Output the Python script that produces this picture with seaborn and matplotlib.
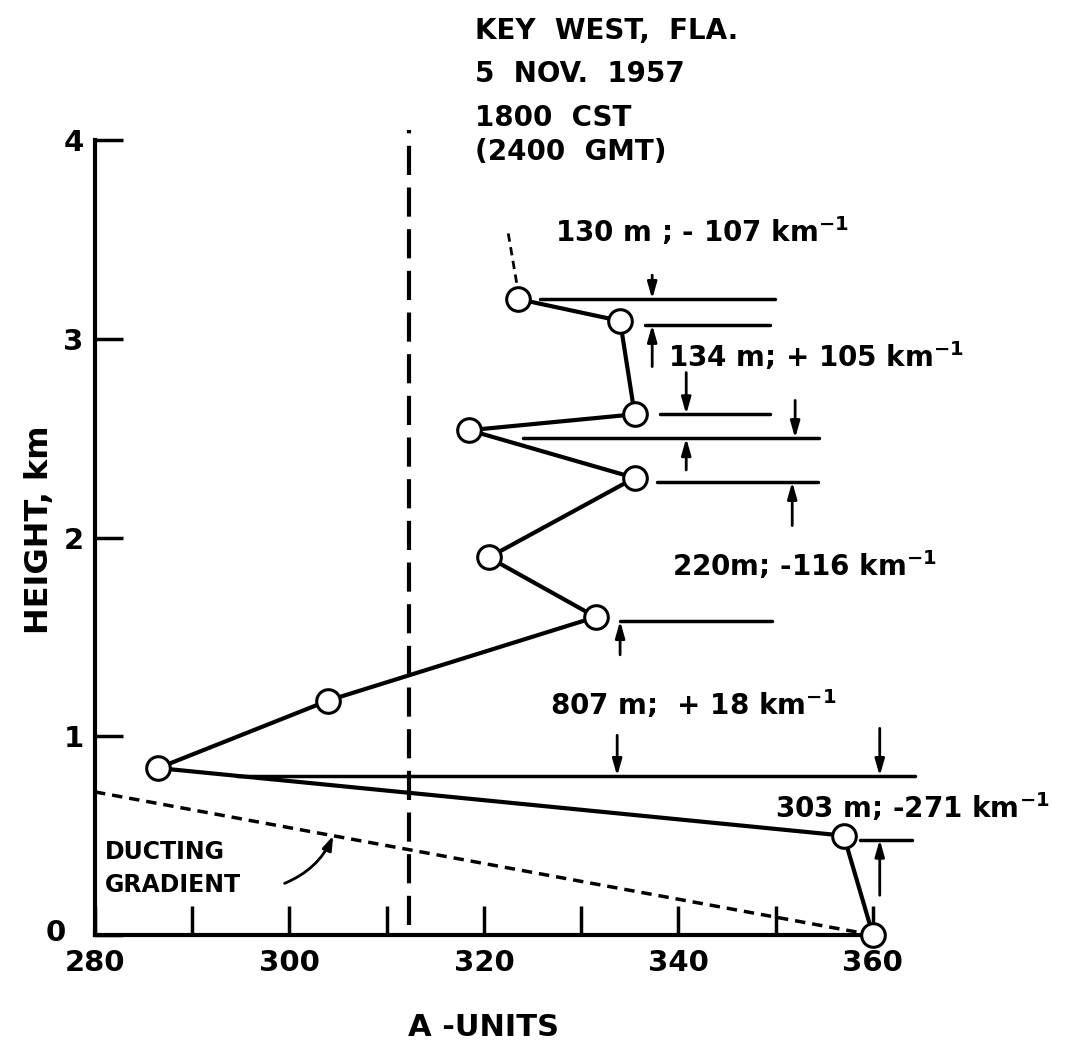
import numpy as np
import pandas as pd
import matplotlib
matplotlib.use('Agg')
import matplotlib.pyplot as plt
import matplotlib.transforms as mtransforms
import seaborn as sns

# refractivity profile (A-units vs height)
a_units = [360, 357, 286.5, 304, 331.5, 320.5, 335.5, 318.5, 335.5, 334, 323.5]
height_km = [0.0, 0.50, 0.84, 1.18, 1.60, 1.90, 2.30, 2.54, 2.62, 3.09, 3.20]

# ducting gradient reference line
duct_a = [280, 360]
duct_h = [0.72, 0.0]

# vertical reference (dashed)
ref_a = 312.3
ref_h = [0.05, 4.05]

# layer boundary lines: height, start, end (A-units)
layer_h = [3.20, 3.07, 2.62, 2.50, 2.28, 1.58, 0.80, 0.48]
layer_x0 = [325.8, 336.6, 338.1, 324.0, 337.8, 334.0, 294.6, 358.7]
layer_x1 = [349.9, 349.4, 349.4, 354.5, 354.3, 349.6, 364.3, 364.0]

# thickness arrows: x, from height, to height
arrow_x = [337.3, 337.3, 340.8, 352.0, 340.8, 351.7, 334.0, 333.7, 360.7, 360.7]
arrow_from = [3.32, 2.86, 2.83, 2.69, 2.34, 2.06, 1.41, 1.005, 1.04, 0.20]
arrow_to = [3.20, 3.07, 2.62, 2.50, 2.50, 2.28, 1.58, 0.80, 0.80, 0.48]

layer_labels = ['130 m ; - 107 km$^{-1}$', '134 m; + 105 km$^{-1}$',
                '220m; -116 km$^{-1}$', '807 m;  + 18 km$^{-1}$',
                '303 m; -271 km$^{-1}$']
label_x = [327.3, 338.9, 339.3, 326.8, 349.9]
label_y = [3.54, 2.91, 1.86, 1.16, 0.64]

title_lines = ['KEY  WEST,  FLA.', '5  NOV.  1957', '1800  CST', '(2400  GMT)']
title_y = [4.55, 4.33, 4.11, 3.94]

sns.set_style('ticks')
plt.rcParams['font.family'] = ['DejaVu Sans']
plt.rcParams['font.weight'] = 'bold'
plt.rcParams['mathtext.default'] = 'regular'
plt.rcParams['text.color'] = 'black'
plt.rcParams['axes.labelcolor'] = 'black'
plt.rcParams['xtick.color'] = 'black'
plt.rcParams['ytick.color'] = 'black'
plt.rcParams['axes.edgecolor'] = 'black'

fig = plt.figure(figsize=(10.72, 10.6), dpi=100)
ax = fig.add_axes([0.0886, 0.1179, 0.7257, 0.7500])

df = pd.DataFrame({'A': a_units, 'H': height_km})
sns.lineplot(data=df, x='A', y='H', sort=False, estimator=None, ax=ax,
             color='black', linewidth=3, marker='o', markersize=17,
             markerfacecolor='white', markeredgecolor='black',
             markeredgewidth=2.2, zorder=5, clip_on=False)

ax.plot(duct_a, duct_h, color='black', linewidth=2.5, linestyle=(0, (3, 2)),
        clip_on=False)
ax.plot([ref_a, ref_a], ref_h, color='black', linewidth=3,
        linestyle=(0, (7, 3)), clip_on=False)

for h, x0, x1 in zip(layer_h, layer_x0, layer_x1):
    ax.plot([x0, x1], [h, h], color='black', linewidth=2.5, clip_on=False)

for x, y0, y1 in zip(arrow_x, arrow_from, arrow_to):
    ax.annotate('', xy=(x, y1), xytext=(x, y0), annotation_clip=False,
                arrowprops=dict(arrowstyle='-|>,head_length=0.7,head_width=0.2',
                                color='black', lw=2, shrinkA=0, shrinkB=0,
                                mutation_scale=14))

for txt, x, y in zip(layer_labels, label_x, label_y):
    ax.text(x, y, txt, fontsize=20, va='center', ha='left', clip_on=False)

for txt, y in zip(title_lines, title_y):
    ax.text(319.1, y, txt, fontsize=20, va='center', ha='left', clip_on=False)

# leader from title to top point
ax.plot([322.5, 323.4], [3.53, 3.27], color='black', linewidth=2,
        linestyle=(0, (3, 2)), clip_on=False)

ax.text(281, 0.42, 'DUCTING', fontsize=17, va='center', ha='left')
ax.text(281, 0.25, 'GRADIENT', fontsize=17, va='center', ha='left')
ax.annotate('', xy=(304.5, 0.50), xytext=(299.5, 0.26),
            arrowprops=dict(arrowstyle='-|>,head_length=0.6,head_width=0.2',
                            color='black', lw=2, shrinkA=0, shrinkB=0,
                            mutation_scale=14,
                            connectionstyle='arc3,rad=0.2'))

ax.set_xlim(280, 360)
ax.set_ylim(0, 4)
ax.set_xticks([280, 300, 320, 340, 360])
ax.set_xticks([290, 310, 330, 350], minor=True)
ax.set_yticks([0, 1, 2, 3, 4])
ax.tick_params(axis='x', which='both', direction='in', length=21, width=2.5,
               labelsize=21, pad=10)
ax.tick_params(axis='y', which='both', direction='in', length=20, width=2.5,
               labelsize=21, pad=8)
for lbl in ax.get_xticklabels() + ax.get_yticklabels():
    lbl.set_fontweight('bold')

# the "0" sits left of the corner, away from "280"
zero_lbl = ax.get_yticklabels()[0]
zero_lbl.set_transform(zero_lbl.get_transform() +
                       mtransforms.ScaledTranslation(-0.18, 0.05, fig.dpi_scale_trans))

sns.despine(ax=ax)
ax.spines['left'].set_linewidth(3)
ax.spines['bottom'].set_linewidth(3)

ax.set_xlabel('A -UNITS', fontsize=22, fontweight='bold', labelpad=26)
ax.set_ylabel('HEIGHT, km', fontsize=23, fontweight='bold')
ax.yaxis.set_label_coords(-0.052, 0.51)

fig.savefig('out.png', dpi=100)
